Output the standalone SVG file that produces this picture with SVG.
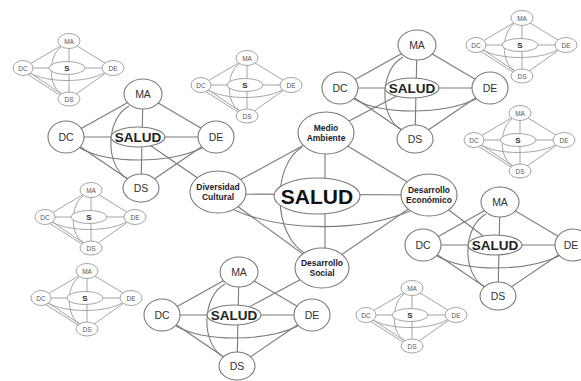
<svg xmlns="http://www.w3.org/2000/svg" width="581" height="381" viewBox="0 0 581 381">
<style>
.c{fill:none;stroke:#7a7a7a;stroke-width:1.1}
.cs{fill:none;stroke:#9a9a9a;stroke-width:0.9}
.n{fill:#fff;stroke:#7a7a7a;stroke-width:1.1}
.ns{fill:#fff;stroke:#9a9a9a;stroke-width:0.9}
text{font-family:"Liberation Sans",Arial,sans-serif;text-anchor:middle;fill:#333}
.tm{font-size:10.5px}
.ts{font-size:6.5px;fill:#555}
.ss{font-size:8px;font-weight:bold;fill:#333}
.sm{font-size:13.5px;font-weight:bold;fill:#222}
.sc{font-size:21px;font-weight:bold;fill:#111}
.tc{font-size:8.5px;font-weight:bold;fill:#1a1a2a}
</style>
<rect width="581" height="381" fill="#fff"/>
<g id="connectors">
  <!-- links between central and medium clusters -->
  <path class="c" d="M138,137 L218,192"/>
  <path class="c" d="M412,88 L326,133"/>
  <path class="c" d="M495,245 L429,195"/>
  <path class="c" d="M234,315 L322,268"/>
  <!-- central cluster -->
  <path class="c" d="M326,133 L218,192"/>
  <path class="c" d="M326,133 L429,195"/>
  <path class="c" d="M218,192 L322,268"/>
  <path class="c" d="M429,195 L322,268"/>
  <path class="c" d="M325,133 L325,268"/>
  <path class="c" d="M218,194 L429,195"/>
  <path class="c" d="M302,147 C272,165 272,235 306,254"/>
  <path class="c" d="M234,210 C285,232 360,232 410,211"/>
  <!-- medium clusters -->
  <g transform="translate(138,137)">
    <path class="c" d="M5,-43 L-72,0"/><path class="c" d="M5,-43 L78,0"/><path class="c" d="M-72,0 L3,51"/><path class="c" d="M78,0 L3,51"/><path class="c" d="M5,-43 L3,51"/><path class="c" d="M-72,0 L78,0"/><path class="c" d="M-9,-31 C-33,-18 -33,30 -10,42"/><path class="c" d="M-58,11 C-30,27 30,27 64,11"/>
  </g>
  <g transform="translate(412,88)">
    <path class="c" d="M5,-43 L-72,0"/><path class="c" d="M5,-43 L78,0"/><path class="c" d="M-72,0 L3,51"/><path class="c" d="M78,0 L3,51"/><path class="c" d="M5,-43 L3,51"/><path class="c" d="M-72,0 L78,0"/><path class="c" d="M-9,-31 C-33,-18 -33,30 -10,42"/><path class="c" d="M-58,11 C-30,27 30,27 64,11"/>
  </g>
  <g transform="translate(495,245)">
    <path class="c" d="M5,-43 L-72,0"/><path class="c" d="M5,-43 L78,0"/><path class="c" d="M-72,0 L3,51"/><path class="c" d="M78,0 L3,51"/><path class="c" d="M5,-43 L3,51"/><path class="c" d="M-72,0 L78,0"/><path class="c" d="M-9,-31 C-33,-18 -33,30 -10,42"/><path class="c" d="M-58,11 C-30,27 30,27 64,11"/>
  </g>
  <g transform="translate(234,315)">
    <path class="c" d="M5,-43 L-72,0"/><path class="c" d="M5,-43 L78,0"/><path class="c" d="M-72,0 L3,51"/><path class="c" d="M78,0 L3,51"/><path class="c" d="M5,-43 L3,51"/><path class="c" d="M-72,0 L78,0"/><path class="c" d="M-9,-31 C-33,-18 -33,30 -10,42"/><path class="c" d="M-58,11 C-30,27 30,27 64,11"/>
  </g>
  <!-- small clusters -->
  <g transform="translate(67,68)">
    <path class="cs" d="M2,-27 L-44,0"/><path class="cs" d="M2,-27 L46,0"/><path class="cs" d="M-44,0 L2,31"/><path class="cs" d="M-40,6 L-4,29"/><path class="cs" d="M46,0 L2,31"/><path class="cs" d="M2,-27 L2,31"/><path class="cs" d="M-44,0 L46,0"/><path class="cs" d="M-6,-21 C-19,-12 -19,18 -6,25"/><path class="cs" d="M-37,5 C-20,15 20,15 37,5"/>
  </g>
  <g transform="translate(245,85)">
    <path class="cs" d="M2,-27 L-44,0"/><path class="cs" d="M2,-27 L46,0"/><path class="cs" d="M-44,0 L2,31"/><path class="cs" d="M-40,6 L-4,29"/><path class="cs" d="M46,0 L2,31"/><path class="cs" d="M2,-27 L2,31"/><path class="cs" d="M-44,0 L46,0"/><path class="cs" d="M-6,-21 C-19,-12 -19,18 -6,25"/><path class="cs" d="M-37,5 C-20,15 20,15 37,5"/>
  </g>
  <g transform="translate(520,45)">
    <path class="cs" d="M2,-27 L-44,0"/><path class="cs" d="M2,-27 L46,0"/><path class="cs" d="M-44,0 L2,31"/><path class="cs" d="M-40,6 L-4,29"/><path class="cs" d="M46,0 L2,31"/><path class="cs" d="M2,-27 L2,31"/><path class="cs" d="M-44,0 L46,0"/><path class="cs" d="M-6,-21 C-19,-12 -19,18 -6,25"/><path class="cs" d="M-37,5 C-20,15 20,15 37,5"/>
  </g>
  <g transform="translate(518,140)">
    <path class="cs" d="M2,-27 L-44,0"/><path class="cs" d="M2,-27 L46,0"/><path class="cs" d="M-44,0 L2,31"/><path class="cs" d="M-40,6 L-4,29"/><path class="cs" d="M46,0 L2,31"/><path class="cs" d="M2,-27 L2,31"/><path class="cs" d="M-44,0 L46,0"/><path class="cs" d="M-6,-21 C-19,-12 -19,18 -6,25"/><path class="cs" d="M-37,5 C-20,15 20,15 37,5"/>
  </g>
  <g transform="translate(89,217)">
    <path class="cs" d="M2,-27 L-44,0"/><path class="cs" d="M2,-27 L46,0"/><path class="cs" d="M-44,0 L2,31"/><path class="cs" d="M-40,6 L-4,29"/><path class="cs" d="M46,0 L2,31"/><path class="cs" d="M2,-27 L2,31"/><path class="cs" d="M-44,0 L46,0"/><path class="cs" d="M-6,-21 C-19,-12 -19,18 -6,25"/><path class="cs" d="M-37,5 C-20,15 20,15 37,5"/>
  </g>
  <g transform="translate(85,298)">
    <path class="cs" d="M2,-27 L-44,0"/><path class="cs" d="M2,-27 L46,0"/><path class="cs" d="M-44,0 L2,31"/><path class="cs" d="M-40,6 L-4,29"/><path class="cs" d="M46,0 L2,31"/><path class="cs" d="M2,-27 L2,31"/><path class="cs" d="M-44,0 L46,0"/><path class="cs" d="M-6,-21 C-19,-12 -19,18 -6,25"/><path class="cs" d="M-37,5 C-20,15 20,15 37,5"/>
  </g>
  <g transform="translate(410,315)">
    <path class="cs" d="M2,-27 L-44,0"/><path class="cs" d="M2,-27 L46,0"/><path class="cs" d="M-44,0 L2,31"/><path class="cs" d="M-40,6 L-4,29"/><path class="cs" d="M46,0 L2,31"/><path class="cs" d="M2,-27 L2,31"/><path class="cs" d="M-44,0 L46,0"/><path class="cs" d="M-6,-21 C-19,-12 -19,18 -6,25"/><path class="cs" d="M-37,5 C-20,15 20,15 37,5"/>
  </g>
</g>
<g id="central">
  <g id="salud"><ellipse class="n" cx="317" cy="196" rx="43" ry="18"/><text class="sc" x="317" y="204">SALUD</text></g>
  <g id="medio-ambiente"><ellipse class="n" cx="326" cy="133" rx="28" ry="21"/><text class="tc" x="326" y="131">Medio</text><text class="tc" x="326" y="141">Ambiente</text></g>
  <g id="diversidad-cultural"><ellipse class="n" cx="218" cy="192" rx="28" ry="21"/><text class="tc" x="218" y="190">Diversidad</text><text class="tc" x="218" y="200">Cultural</text></g>
  <g id="desarrollo-economico"><ellipse class="n" cx="429" cy="195" rx="28" ry="21"/><text class="tc" x="429" y="193">Desarrollo</text><text class="tc" x="429" y="203">Económico</text></g>
  <g id="desarrollo-social"><ellipse class="n" cx="322" cy="268" rx="27" ry="20"/><text class="tc" x="322" y="266">Desarrollo</text><text class="tc" x="322" y="276">Social</text></g>
</g>
<g id="cluster-ul" transform="translate(138,137)">
  <g id="ul-salud"><ellipse class="n" cx="0" cy="0" rx="27" ry="10"/><text class="sm" x="0" y="5">SALUD</text></g>
  <g id="ul-ma"><ellipse class="n" cx="5" cy="-43" rx="19" ry="15"/><text class="tm" x="5" y="-39">MA</text></g>
  <g id="ul-dc"><ellipse class="n" cx="-72" cy="0" rx="18" ry="16"/><text class="tm" x="-72" y="4">DC</text></g>
  <g id="ul-de"><ellipse class="n" cx="78" cy="0" rx="18" ry="16"/><text class="tm" x="78" y="4">DE</text></g>
  <g id="ul-ds"><ellipse class="n" cx="3" cy="51" rx="18" ry="14"/><text class="tm" x="3" y="55">DS</text></g>
</g>
<g id="cluster-ur" transform="translate(412,88)">
  <g id="ur-salud"><ellipse class="n" cx="0" cy="0" rx="27" ry="10"/><text class="sm" x="0" y="5">SALUD</text></g>
  <g id="ur-ma"><ellipse class="n" cx="5" cy="-43" rx="19" ry="15"/><text class="tm" x="5" y="-39">MA</text></g>
  <g id="ur-dc"><ellipse class="n" cx="-72" cy="0" rx="18" ry="16"/><text class="tm" x="-72" y="4">DC</text></g>
  <g id="ur-de"><ellipse class="n" cx="78" cy="0" rx="18" ry="16"/><text class="tm" x="78" y="4">DE</text></g>
  <g id="ur-ds"><ellipse class="n" cx="3" cy="51" rx="18" ry="14"/><text class="tm" x="3" y="55">DS</text></g>
</g>
<g id="cluster-r" transform="translate(495,245)">
  <g id="r-salud"><ellipse class="n" cx="0" cy="0" rx="27" ry="10"/><text class="sm" x="0" y="5">SALUD</text></g>
  <g id="r-ma"><ellipse class="n" cx="5" cy="-43" rx="19" ry="15"/><text class="tm" x="5" y="-39">MA</text></g>
  <g id="r-dc"><ellipse class="n" cx="-72" cy="0" rx="18" ry="16"/><text class="tm" x="-72" y="4">DC</text></g>
  <g id="r-de"><ellipse class="n" cx="78" cy="0" rx="18" ry="16"/><text class="tm" x="76" y="4">DE</text></g>
  <g id="r-ds"><ellipse class="n" cx="3" cy="51" rx="18" ry="14"/><text class="tm" x="3" y="55">DS</text></g>
</g>
<g id="cluster-b" transform="translate(234,315)">
  <g id="b-salud"><ellipse class="n" cx="0" cy="0" rx="27" ry="10"/><text class="sm" x="0" y="5">SALUD</text></g>
  <g id="b-ma"><ellipse class="n" cx="5" cy="-43" rx="19" ry="15"/><text class="tm" x="5" y="-39">MA</text></g>
  <g id="b-dc"><ellipse class="n" cx="-72" cy="0" rx="18" ry="16"/><text class="tm" x="-72" y="4">DC</text></g>
  <g id="b-de"><ellipse class="n" cx="78" cy="0" rx="18" ry="16"/><text class="tm" x="78" y="4">DE</text></g>
  <g id="b-ds"><ellipse class="n" cx="3" cy="51" rx="18" ry="14"/><text class="tm" x="3" y="55">DS</text></g>
</g>
<g id="small-1" transform="translate(67,68)">
  <g id="s1-s"><ellipse class="ns" cx="0" cy="0" rx="18" ry="6.5"/><text class="ss" x="0" y="3">S</text></g>
  <g id="s1-ma"><ellipse class="ns" cx="2" cy="-27" rx="11" ry="7.5"/><text class="ts" x="2" y="-24.5">MA</text></g>
  <g id="s1-dc"><ellipse class="ns" cx="-44" cy="0" rx="10" ry="7.5"/><text class="ts" x="-44" y="2.5">DC</text></g>
  <g id="s1-de"><ellipse class="ns" cx="46" cy="0" rx="11" ry="7.5"/><text class="ts" x="46" y="2.5">DE</text></g>
  <g id="s1-ds"><ellipse class="ns" cx="2" cy="31" rx="11" ry="7"/><text class="ts" x="2" y="33.5">DS</text></g>
</g>
<g id="small-2" transform="translate(245,85)">
  <g id="s2-s"><ellipse class="ns" cx="0" cy="0" rx="18" ry="6.5"/><text class="ss" x="0" y="3">S</text></g>
  <g id="s2-ma"><ellipse class="ns" cx="2" cy="-27" rx="11" ry="7.5"/><text class="ts" x="2" y="-24.5">MA</text></g>
  <g id="s2-dc"><ellipse class="ns" cx="-44" cy="0" rx="10" ry="7.5"/><text class="ts" x="-44" y="2.5">DC</text></g>
  <g id="s2-de"><ellipse class="ns" cx="46" cy="0" rx="11" ry="7.5"/><text class="ts" x="46" y="2.5">DE</text></g>
  <g id="s2-ds"><ellipse class="ns" cx="2" cy="31" rx="11" ry="7"/><text class="ts" x="2" y="33.5">DS</text></g>
</g>
<g id="small-3" transform="translate(520,45)">
  <g id="s3-s"><ellipse class="ns" cx="0" cy="0" rx="18" ry="6.5"/><text class="ss" x="0" y="3">S</text></g>
  <g id="s3-ma"><ellipse class="ns" cx="2" cy="-27" rx="11" ry="7.5"/><text class="ts" x="2" y="-24.5">MA</text></g>
  <g id="s3-dc"><ellipse class="ns" cx="-44" cy="0" rx="10" ry="7.5"/><text class="ts" x="-44" y="2.5">DC</text></g>
  <g id="s3-de"><ellipse class="ns" cx="46" cy="0" rx="11" ry="7.5"/><text class="ts" x="46" y="2.5">DE</text></g>
  <g id="s3-ds"><ellipse class="ns" cx="2" cy="31" rx="11" ry="7"/><text class="ts" x="2" y="33.5">DS</text></g>
</g>
<g id="small-4" transform="translate(518,140)">
  <g id="s4-s"><ellipse class="ns" cx="0" cy="0" rx="18" ry="6.5"/><text class="ss" x="0" y="3">S</text></g>
  <g id="s4-ma"><ellipse class="ns" cx="2" cy="-27" rx="11" ry="7.5"/><text class="ts" x="2" y="-24.5">MA</text></g>
  <g id="s4-dc"><ellipse class="ns" cx="-44" cy="0" rx="10" ry="7.5"/><text class="ts" x="-44" y="2.5">DC</text></g>
  <g id="s4-de"><ellipse class="ns" cx="46" cy="0" rx="11" ry="7.5"/><text class="ts" x="46" y="2.5">DE</text></g>
  <g id="s4-ds"><ellipse class="ns" cx="2" cy="31" rx="11" ry="7"/><text class="ts" x="2" y="33.5">DS</text></g>
</g>
<g id="small-5" transform="translate(89,217)">
  <g id="s5-s"><ellipse class="ns" cx="0" cy="0" rx="18" ry="6.5"/><text class="ss" x="0" y="3">S</text></g>
  <g id="s5-ma"><ellipse class="ns" cx="2" cy="-27" rx="11" ry="7.5"/><text class="ts" x="2" y="-24.5">MA</text></g>
  <g id="s5-dc"><ellipse class="ns" cx="-44" cy="0" rx="10" ry="7.5"/><text class="ts" x="-44" y="2.5">DC</text></g>
  <g id="s5-de"><ellipse class="ns" cx="46" cy="0" rx="11" ry="7.5"/><text class="ts" x="46" y="2.5">DE</text></g>
  <g id="s5-ds"><ellipse class="ns" cx="2" cy="31" rx="11" ry="7"/><text class="ts" x="2" y="33.5">DS</text></g>
</g>
<g id="small-6" transform="translate(85,298)">
  <g id="s6-s"><ellipse class="ns" cx="0" cy="0" rx="18" ry="6.5"/><text class="ss" x="0" y="3">S</text></g>
  <g id="s6-ma"><ellipse class="ns" cx="2" cy="-27" rx="11" ry="7.5"/><text class="ts" x="2" y="-24.5">MA</text></g>
  <g id="s6-dc"><ellipse class="ns" cx="-44" cy="0" rx="10" ry="7.5"/><text class="ts" x="-44" y="2.5">DC</text></g>
  <g id="s6-de"><ellipse class="ns" cx="46" cy="0" rx="11" ry="7.5"/><text class="ts" x="46" y="2.5">DE</text></g>
  <g id="s6-ds"><ellipse class="ns" cx="2" cy="31" rx="11" ry="7"/><text class="ts" x="2" y="33.5">DS</text></g>
</g>
<g id="small-7" transform="translate(410,315)">
  <g id="s7-s"><ellipse class="ns" cx="0" cy="0" rx="18" ry="6.5"/><text class="ss" x="0" y="3">S</text></g>
  <g id="s7-ma"><ellipse class="ns" cx="2" cy="-27" rx="11" ry="7.5"/><text class="ts" x="2" y="-24.5">MA</text></g>
  <g id="s7-dc"><ellipse class="ns" cx="-44" cy="0" rx="10" ry="7.5"/><text class="ts" x="-44" y="2.5">DC</text></g>
  <g id="s7-de"><ellipse class="ns" cx="46" cy="0" rx="11" ry="7.5"/><text class="ts" x="46" y="2.5">DE</text></g>
  <g id="s7-ds"><ellipse class="ns" cx="2" cy="31" rx="11" ry="7"/><text class="ts" x="2" y="33.5">DS</text></g>
</g>
</svg>
